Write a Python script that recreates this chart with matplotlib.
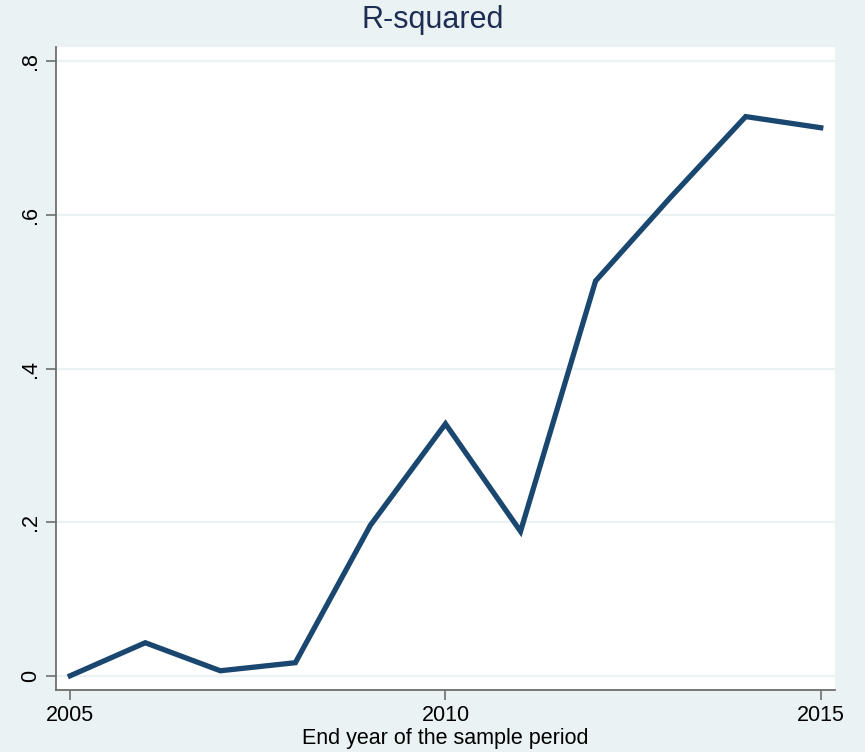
import matplotlib
matplotlib.use("Agg")
import matplotlib.pyplot as plt

# R-squared by end year of sample period
years = [2005, 2006, 2007, 2008, 2009, 2010, 2011, 2012, 2013, 2014, 2015]
r2 = [0.0, 0.043, 0.0065, 0.017, 0.196, 0.328, 0.188, 0.514, 0.623, 0.728, 0.7135]
xticks = [2005, 2010, 2015]
yticks = [0, 0.2, 0.4, 0.6, 0.8]
ylabels = ["0", ".2", ".4", ".6", ".8"]

BG = "#EAF2F3"
NAVY = "#1A476F"
AXC = "#6E6E6E"

plt.rcParams["font.family"] = ["Liberation Sans", "DejaVu Sans"]

fig = plt.figure(figsize=(8.65, 7.52), dpi=100, facecolor=BG)
ax = fig.add_axes([0.0647, 0.0824, 0.9006, 0.8551])
ax.set_facecolor("white")

for y in yticks:
    ax.axhline(y, color=BG, lw=1.6, zorder=1)
ax.plot(years, r2, color=NAVY, lw=3.8, solid_joinstyle="miter", zorder=3)

ax.set_xlim(2004.81, 2015.19)
ax.set_ylim(-0.0186, 0.8186)
ax.set_xticks(xticks)
ax.set_xticklabels([str(t) for t in xticks])
ax.set_yticks(yticks)
ax.set_yticklabels(ylabels, rotation=90, va="center")

for s in ["top", "right"]:
    ax.spines[s].set_visible(False)
for s in ["left", "bottom"]:
    ax.spines[s].set_color(AXC)
    ax.spines[s].set_linewidth(1.3)
ax.tick_params(axis="both", colors=AXC, length=7, width=1.2, labelsize=15.5,
               labelcolor="black")
ax.tick_params(axis="x", pad=4)
ax.tick_params(axis="y", pad=4)

ax.set_xlabel("End year of the sample period", fontsize=15.5, labelpad=1)
fig.suptitle("R-squared", fontsize=22, color="#1E2D53", y=0.993)

fig.savefig("out.png", dpi=100, facecolor=BG)
